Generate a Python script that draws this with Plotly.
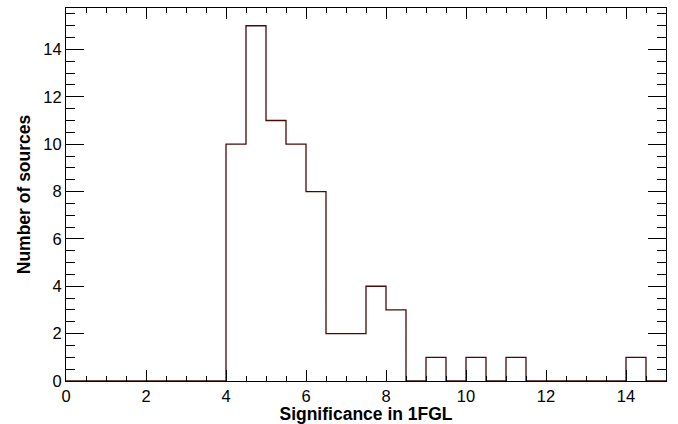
import plotly.graph_objects as go

bin_edges = [i * 0.5 for i in range(31)]
counts = [0, 0, 0, 0, 0, 0, 0, 0,
          10, 15, 11, 10, 8, 2, 2, 4, 3, 0,
          1, 0, 1, 0, 1, 0, 0, 0, 0, 0, 1, 0]
x_title = "Significance in 1FGL"
y_title = "Number of sources"

xs = bin_edges
ys = counts + [counts[-1]]

fig = go.Figure()
fig.add_trace(go.Scatter(x=xs, y=ys, mode="lines", line=dict(shape="hv", color="#4a0808", width=1.3),
                         hoverinfo="skip", showlegend=False))

font_family = "Liberation Sans, Arial, Helvetica, sans-serif"
fig.update_layout(
    width=678, height=424,
    margin=dict(l=66, r=12, t=7, b=42),
    paper_bgcolor="white", plot_bgcolor="white",
    font=dict(family=font_family, size=16.5, color="black"),
    showlegend=False,
)
fig.update_xaxes(
    range=[0, 15], tickmode="linear", tick0=0, dtick=2,
    ticks="inside", ticklen=11, tickwidth=1, tickcolor="black",
    minor=dict(dtick=0.5, ticklen=5, tickwidth=1, tickcolor="black", ticks="inside"),
    showline=True, linecolor="black", linewidth=1, mirror="allticks",
    showgrid=False, zeroline=False,
    title=dict(text="<b>" + x_title + "</b>", font=dict(size=17.5), standoff=0),
    tickfont=dict(size=16.5),
)
fig.update_yaxes(
    range=[0, 15.75], tickmode="linear", tick0=0, dtick=2,
    ticks="inside", ticklen=18, tickwidth=1, tickcolor="black",
    minor=dict(dtick=0.5, ticklen=9, tickwidth=1, tickcolor="black", ticks="inside"),
    showline=True, linecolor="black", linewidth=1, mirror="allticks",
    showgrid=False, zeroline=False,
    title=dict(text="<b>" + y_title + "</b>", font=dict(size=17.5), standoff=8),
    tickfont=dict(size=16.5),
)
fig.write_html("out.html")
